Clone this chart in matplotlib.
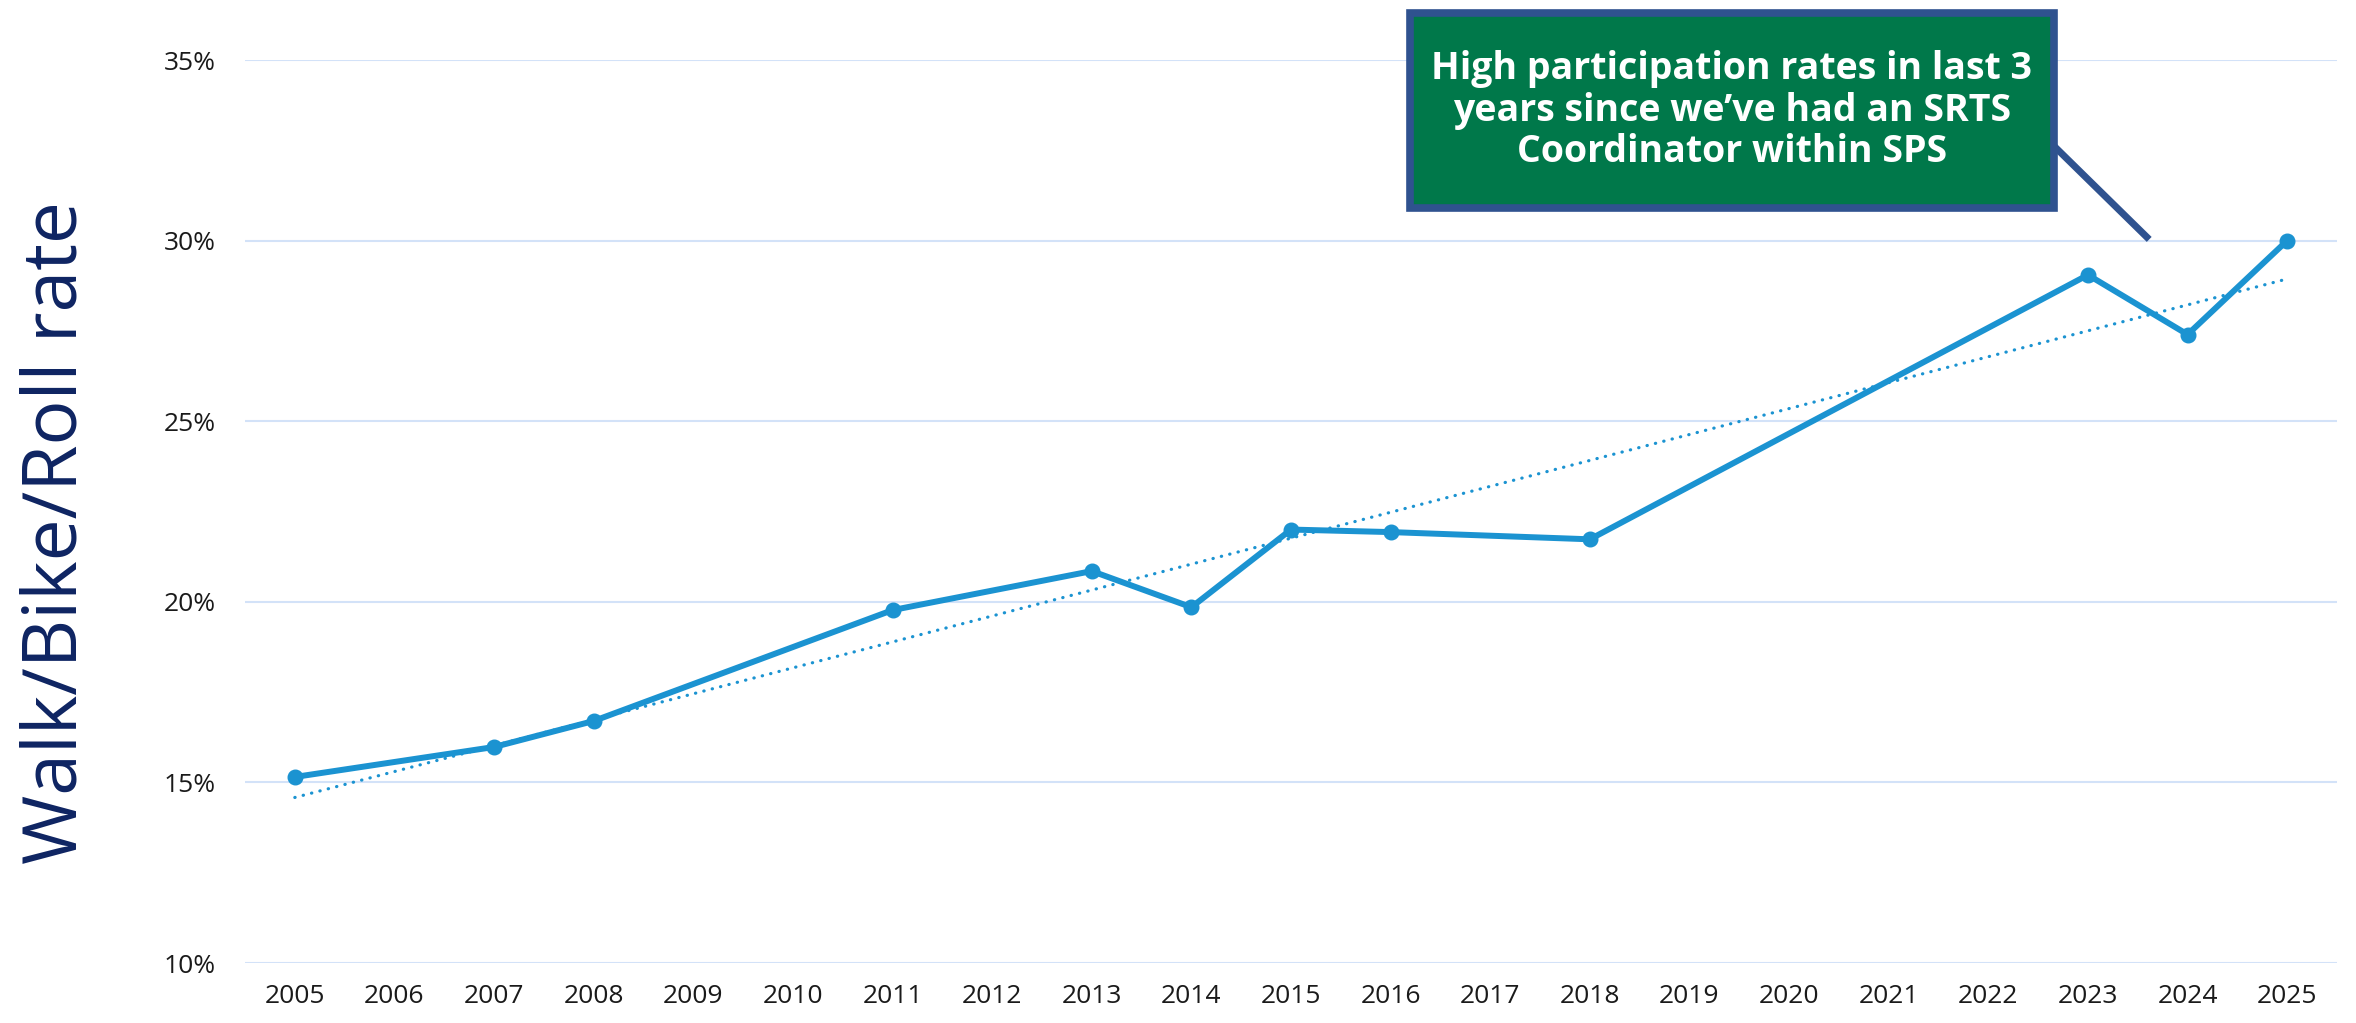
import numpy as np
import matplotlib
matplotlib.use('Agg')
import matplotlib.pyplot as plt
from matplotlib.patches import Rectangle
from matplotlib.lines import Line2D

# data
years = [2005, 2007, 2008, 2011, 2013, 2014, 2015, 2016, 2018, 2023, 2024, 2025]
rates = [15.15, 15.98, 16.7, 19.77, 20.85, 19.85, 22.0, 21.93, 21.73, 29.05, 27.4, 30.0]
all_years = list(range(2005, 2026))
y_ticks = [10, 15, 20, 25, 30, 35]

note = "High participation rates in last 3\nyears since we\u2019ve had an SRTS\nCoordinator within SPS"

line_color = '#1B93D1'
grid_color = '#D3E2F8'
navy = '#0E2462'

plt.rcParams['font.family'] = ['Open Sans', 'DejaVu Sans']

fig = plt.figure(figsize=(23.56, 10.23), dpi=100)
ax = fig.add_axes([245 / 2356, 1 - 963 / 1023, (2337 - 245) / 2356, (963 - 60) / 1023])

ax.plot(years, rates, color=line_color, lw=4.3, marker='o', ms=10.5, zorder=3)

# linear trendline like the spreadsheet one
coef = np.polyfit(years, rates, 1)
trend_x = np.array([years[0], years[-1]])
ax.plot(trend_x, np.polyval(coef, trend_x), color=line_color, lw=2.3,
        linestyle=(0, (0.1, 2.6)), dash_capstyle='round', zorder=2)

ax.set_xlim(2004.5, 2025.5)
ax.set_ylim(10, 35)
ax.set_xticks(all_years)
ax.set_xticklabels([str(y) for y in all_years])
ax.set_yticks(y_ticks)
ax.set_yticklabels([f'{t}%' for t in y_ticks])
ax.tick_params(axis='both', length=0, labelsize=19, labelcolor='#1a1a1a')
ax.tick_params(axis='y', pad=21)
ax.tick_params(axis='x', pad=15)
ax.grid(axis='y', color=grid_color, lw=1.5)
ax.set_axisbelow(True)
for s in ax.spines.values():
    s.set_visible(False)

fig.text(57 / 2356, 1 - 533 / 1023, 'Walk/Bike/Roll rate', rotation=90, fontsize=54,
         color=navy, ha='center', va='center')

# callout box
x0, x1 = 1410 / 2356, 2054 / 2356
y0, y1 = 1 - 208 / 1023, 1 - 13 / 1023
fig.add_artist(Rectangle((x0, y0), x1 - x0, y1 - y0, transform=fig.transFigure,
                         facecolor='#00784A', edgecolor='#2F528F', lw=5.5, zorder=5))
fig.text((x0 + x1) / 2, (y0 + y1) / 2, note, ha='center', va='center', color='white',
         fontsize=27, fontweight='bold', linespacing=1.12, zorder=6)

# connector from the box to the last points
p_end = fig.transFigure.inverted().transform(ax.transData.transform((2023.59, 30.1)))
fig.add_artist(Line2D([2056 / 2356, p_end[0]], [1 - 148 / 1023, p_end[1]],
                      transform=fig.transFigure, color='#2F528F', lw=5, zorder=4))

fig.savefig('out.png', dpi=100)
